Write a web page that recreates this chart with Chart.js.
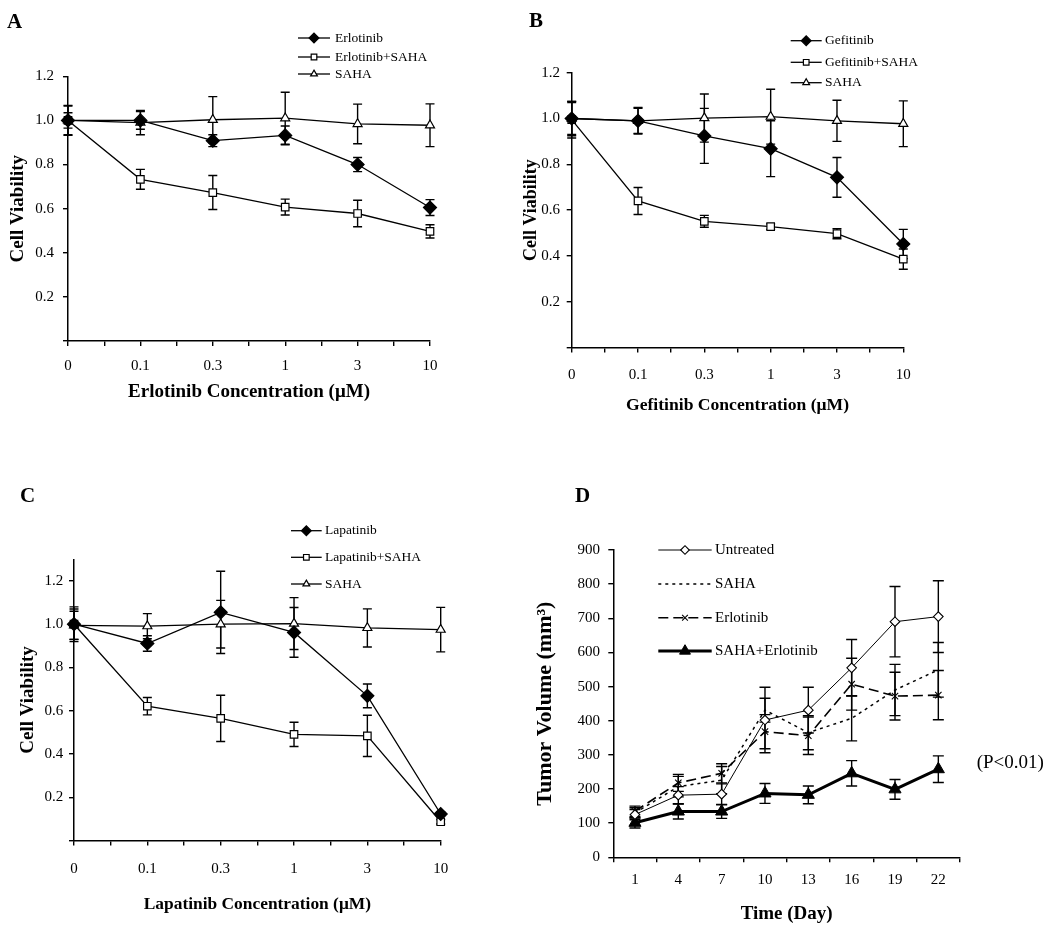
<!DOCTYPE html>
<html><head><meta charset="utf-8">
<script src="https://cdn.jsdelivr.net/npm/chart.js@4/dist/chart.umd.min.js"></script>
<style>
html,body{margin:0;padding:0;background:#fff;}
#wrap{position:relative;width:1050px;height:933px;overflow:hidden;background:#fff;}
canvas{position:absolute;left:0;top:0;}
</style></head><body>
<div id="wrap">
<canvas id="cA" width="1050" height="933"></canvas>
<canvas id="cB" width="1050" height="933"></canvas>
<canvas id="cC" width="1050" height="933"></canvas>
<canvas id="cD" width="1050" height="933"></canvas>
</div>
<script>
// ---------- data ----------
const concentrations = ['0', '0.1', '0.3', '1', '3', '10'];

// Panel A
const erlotinibA      = [1.0, 1.0, 0.908, 0.932, 0.80, 0.605];
const erlotinibAErr   = [0.035, 0.04, 0.027, 0.043, 0.032, 0.036];
const erlotinibSahaA  = [1.0, 0.733, 0.673, 0.607, 0.578, 0.497];
const erlotinibSahaAErr = [0.065, 0.045, 0.077, 0.036, 0.06, 0.03];
const sahaA           = [1.0, 0.99, 1.003, 1.01, 0.984, 0.978];
const sahaAErr        = [0.068, 0.055, 0.105, 0.118, 0.09, 0.097];

// Panel B
const gefitinibB      = [1.0, 0.99, 0.924, 0.868, 0.743, 0.452];
const gefitinibBErr   = [0.07, 0.058, 0.12, 0.122, 0.087, 0.064];
const gefitinibSahaB  = [0.995, 0.64, 0.551, 0.528, 0.497, 0.386];
const gefitinibSahaBErr = [0.08, 0.059, 0.026, 0.012, 0.022, 0.044];
const sahaB           = [1.0, 0.99, 1.002, 1.008, 0.99, 0.977];
const sahaBErr        = [0.075, 0.055, 0.105, 0.12, 0.09, 0.1];

// Panel C
const lapatinibC      = [1.0, 0.911, 1.055, 0.962, 0.669, 0.123];
const lapatinibCErr   = [0.07, 0.036, 0.19, 0.115, 0.055, 0.01];
const lapatinibSahaC  = [1.0, 0.621, 0.565, 0.491, 0.484, 0.087];
const lapatinibSahaCErr = [0.08, 0.04, 0.107, 0.056, 0.095, 0.01];
const sahaC           = [0.995, 0.991, 1.0, 1.003, 0.983, 0.975];
const sahaCErr        = [0.065, 0.058, 0.11, 0.12, 0.088, 0.103];

// Panel D
const days            = ['1', '4', '7', '10', '13', '16', '19', '22'];
const untreatedD      = [125, 182, 185, 402, 431, 555, 690, 705];
const untreatedDErr   = [15, 25, 30, 96, 67, 83, 103, 105];
const sahaD           = [130, 207, 226, 431, 365, 407, 490, 549];
const sahaDErr        = [15, 30, 40, 35, 50, 66, 75, 80];
const erlotinibD      = [135, 218, 246, 368, 356, 507, 472, 475];
const erlotinibDErr   = [15, 25, 28, 50, 55, 76, 70, 72];
const comboD          = [101, 134, 134, 187, 183, 246, 199, 258];
const comboDErr       = [15, 22, 20, 29, 26, 37, 29, 39];

// ---------- helpers ----------
const FONT = '"Liberation Serif", "Times New Roman", serif';
Chart.defaults.font.family = FONT;
Chart.defaults.color = '#000';

const errorBars = {
  id: 'errorBars',
  beforeDatasetsDraw(chart) {
    const ctx = chart.ctx, ys = chart.scales.y;
    chart.data.datasets.forEach((ds, di) => {
      if (!ds.errors) return;
      const meta = chart.getDatasetMeta(di);
      const cap = ds.capHalf || 4.5;
      ctx.save();
      ctx.strokeStyle = '#000'; ctx.lineWidth = 1.4; ctx.setLineDash([]);
      meta.data.forEach((pt, i) => {
        const raw = ds.data[i];
        const v = (raw && typeof raw === 'object') ? raw.y : raw;
        const e = ds.errors[i];
        const top = ys.getPixelForValue(v + e), bot = ys.getPixelForValue(v - e);
        ctx.beginPath();
        ctx.moveTo(pt.x, top); ctx.lineTo(pt.x, bot);
        ctx.moveTo(pt.x - cap, top); ctx.lineTo(pt.x + cap, top);
        ctx.moveTo(pt.x - cap, bot); ctx.lineTo(pt.x + cap, bot);
        ctx.stroke();
      });
      ctx.restore();
    });
  }
};

function makeOverlay(p) {
  return {
    id: 'overlay',
    afterDraw(chart) {
      const ctx = chart.ctx;
      ctx.save();
      const L = p.legend;
      chart.data.datasets.forEach((ds, i) => {
        const y = L.rows[i];
        ctx.strokeStyle = '#000';
        ctx.lineWidth = ds.borderWidth;
        ctx.setLineDash(ds.borderDash || []);
        ctx.beginPath(); ctx.moveTo(L.x1, y); ctx.lineTo(L.x2, y); ctx.stroke();
        ctx.setLineDash([]);
        if (ds.pointRadius > 0) {
          ctx.fillStyle = ds.pointBackgroundColor;
          ctx.strokeStyle = '#000';
          ctx.lineWidth = ds.pointBorderWidth;
          Chart.helpers.drawPoint(ctx, {
            pointStyle: ds.pointStyle, radius: ds.pointRadius * L.markScale,
            rotation: 0, borderWidth: ds.pointBorderWidth
          }, (L.x1 + L.x2) / 2, y);
        }
        ctx.fillStyle = '#000';
        ctx.font = L.size + 'px ' + FONT;
        ctx.textBaseline = 'middle'; ctx.textAlign = 'left';
        ctx.fillText(ds.label, L.tx, y);
      });
      p.texts.forEach(t => {
        ctx.fillStyle = '#000';
        ctx.font = (t.bold ? 'bold ' : '') + t.size + 'px ' + FONT;
        ctx.textBaseline = t.baseline || 'alphabetic';
        ctx.textAlign = 'left';
        ctx.fillText(t.text, t.x, t.y);
      });
      ctx.restore();
    }
  };
}

function makeChart(id, p) {
  const W = 1050, H = 933;
  const a = p.area;
  const gridOpts = { drawOnChartArea: false, drawTicks: true, tickLength: 5, color: '#000', lineWidth: 1.4 };
  const borderOpts = { color: '#000', width: 1.5 };
  const xTitle = { display: true, text: p.xTitle, font: { size: p.xTitleSize, weight: 'bold' }, color: '#000', padding: 0 };
  const yTitle = { display: true, text: p.yTitle, font: { size: p.yTitleSize, weight: 'bold' }, color: '#000', padding: 0 };
  let xScale;
  if (p.catX) {
    xScale = {
      type: 'category', offset: true,
      grid: Object.assign({ offset: true }, gridOpts), border: borderOpts,
      ticks: { padding: p.xPad, font: { size: 15 }, color: '#000', autoSkip: false, maxRotation: 0 },
      title: xTitle,
      afterFit: s => { s.height = p.xH; }
    };
  } else {
    xScale = {
      type: 'linear', min: 0, max: p.labels.length - 1,
      grid: gridOpts, border: borderOpts,
      ticks: {
        stepSize: 0.5, autoSkip: false, padding: p.xPad, font: { size: 15 }, color: '#000', maxRotation: 0,
        callback: v => (Math.abs(v - Math.round(v)) < 1e-6) ? p.labels[Math.round(v)] : ''
      },
      title: xTitle,
      afterFit: s => { s.height = p.xH; }
    };
  }
  const yScale = {
    type: 'linear', min: 0, max: p.yMax,
    grid: gridOpts, border: borderOpts,
    ticks: {
      stepSize: p.yStep, includeBounds: false, padding: p.yPad, font: { size: 15 }, color: '#000',
      callback: p.yFmt
    },
    title: yTitle,
    afterFit: s => { s.width = p.yW; }
  };
  return new Chart(document.getElementById(id), {
    type: 'line',
    data: { labels: p.catX ? p.labels : undefined, datasets: p.datasets },
    options: {
      responsive: false, animation: false, devicePixelRatio: 1,
      layout: { padding: { left: a.l - p.yW, right: W - a.r, top: a.t, bottom: H - a.b - p.xH } },
      plugins: { legend: { display: false }, tooltip: { enabled: false } },
      scales: { x: xScale, y: yScale },
      elements: { line: { tension: 0 } }
    },
    plugins: [errorBars, makeOverlay(p)]
  });
}

function xy(vals) { return vals.map((v, i) => ({ x: i, y: v })); }

function viabilitySet(label, vals, errs, style) {
  const base = {
    label, data: xy(vals), errors: errs,
    borderColor: '#000', borderWidth: 1.3, clip: false,
    pointBorderColor: '#000', pointBorderWidth: 1.2, capHalf: 4.5
  };
  if (style === 'diamond') Object.assign(base, { pointStyle: 'rectRot', pointRadius: 6.5, pointBackgroundColor: '#000' });
  if (style === 'square') Object.assign(base, { pointStyle: 'rect', pointRadius: 5.3, pointBackgroundColor: '#fff' });
  if (style === 'triangle') Object.assign(base, { pointStyle: 'triangle', pointRadius: 5.2, pointBackgroundColor: '#fff' });
  return base;
}

const vFmt = v => (Math.abs(v) < 1e-9 ? '' : v.toFixed(1));

// ---------- Panel A ----------
makeChart('cA', {
  labels: concentrations, yMax: 1.2, yStep: 0.2, yFmt: vFmt,
  area: { l: 68, r: 430, t: 76.3, b: 341 }, yW: 61, xH: 62.8, xPad: 11, yPad: 9,
  xTitleSize: 19, yTitleSize: 19, xTitle: 'Erlotinib Concentration (\u03BCM)', yTitle: 'Cell Viability',
  datasets: [
    viabilitySet('Erlotinib', erlotinibA, erlotinibAErr, 'diamond'),
    viabilitySet('Erlotinib+SAHA', erlotinibSahaA, erlotinibSahaAErr, 'square'),
    viabilitySet('SAHA', sahaA, sahaAErr, 'triangle')
  ],
  legend: { x1: 298, x2: 330, tx: 335, rows: [38, 57, 74], size: 13.5, markScale: 0.75 },
  texts: [{ text: 'A', x: 7, y: 28, size: 21, bold: true }]
});

// ---------- Panel B ----------
makeChart('cB', {
  labels: concentrations, yMax: 1.2, yStep: 0.2, yFmt: vFmt,
  area: { l: 571.7, r: 903.3, t: 72.7, b: 347.5 }, yW: 51.5, xH: 69, xPad: 13.5, yPad: 6.7,
  xTitleSize: 17.6, yTitleSize: 18, xTitle: 'Gefitinib Concentration (\u03BCM)', yTitle: 'Cell Viability',
  datasets: [
    viabilitySet('Gefitinib', gefitinibB, gefitinibBErr, 'diamond'),
    viabilitySet('Gefitinib+SAHA', gefitinibSahaB, gefitinibSahaBErr, 'square'),
    viabilitySet('SAHA', sahaB, sahaBErr, 'triangle')
  ],
  legend: { x1: 790.7, x2: 821.7, tx: 825, rows: [40.7, 62.3, 82.7], size: 13.5, markScale: 0.75 },
  texts: [{ text: 'B', x: 529, y: 27.3, size: 21, bold: true }]
});

// ---------- Panel C ----------
makeChart('cC', {
  labels: concentrations, yMax: 1.3, yStep: 0.2, yFmt: vFmt,
  area: { l: 74, r: 440.7, t: 559.3, b: 840.6 }, yW: 57.3, xH: 74.2, xPad: 14.4, yPad: 5.7,
  xTitleSize: 17.4, yTitleSize: 19, xTitle: 'Lapatinib Concentration (\u03BCM)', yTitle: 'Cell Viability',
  datasets: [
    viabilitySet('Lapatinib', lapatinibC, lapatinibCErr, 'diamond'),
    viabilitySet('Lapatinib+SAHA', lapatinibSahaC, lapatinibSahaCErr, 'square'),
    viabilitySet('SAHA', sahaC, sahaCErr, 'triangle')
  ],
  legend: { x1: 291, x2: 321.7, tx: 325, rows: [530.7, 557.3, 584], size: 13.5, markScale: 0.75 },
  texts: [{ text: 'C', x: 20, y: 502, size: 21, bold: true }]
});

// ---------- Panel D ----------
makeChart('cD', {
  labels: days, catX: true, yMax: 900, yStep: 100, yFmt: v => String(v),
  area: { l: 613.3, r: 960, t: 550, b: 857.3 }, yW: 80.7, xH: 68.1, xPad: 9.2, yPad: 8.3,
  xTitleSize: 19, yTitleSize: 22, xTitle: 'Time (Day)', yTitle: 'Tumor Volume (mm\u00B3)',
  datasets: [
    { label: 'Untreated', data: untreatedD, errors: untreatedDErr, borderColor: '#000', borderWidth: 1, clip: false,
      pointStyle: 'rectRot', pointRadius: 4.8, pointBackgroundColor: '#fff', pointBorderColor: '#000', pointBorderWidth: 1.1, capHalf: 5.5 },
    { label: 'SAHA', data: sahaD, errors: sahaDErr, borderColor: '#000', borderWidth: 1.5, borderDash: [3, 4], clip: false,
      pointRadius: 0, pointBackgroundColor: '#fff', pointBorderColor: '#000', pointBorderWidth: 1, capHalf: 5.5 },
    { label: 'Erlotinib', data: erlotinibD, errors: erlotinibDErr, borderColor: '#000', borderWidth: 1.6, borderDash: [10, 5], clip: false,
      pointStyle: 'crossRot', pointRadius: 4.5, pointBackgroundColor: '#000', pointBorderColor: '#000', pointBorderWidth: 1.1, capHalf: 5.5 },
    { label: 'SAHA+Erlotinib', data: comboD, errors: comboDErr, borderColor: '#000', borderWidth: 3, clip: false,
      pointStyle: 'triangle', pointRadius: 7, pointBackgroundColor: '#000', pointBorderColor: '#000', pointBorderWidth: 1, capHalf: 5.5 }
  ],
  legend: { x1: 658.3, x2: 711.7, tx: 715, rows: [550, 584, 617.7, 651], size: 15, markScale: 0.9 },
  texts: [
    { text: 'D', x: 575, y: 502, size: 21, bold: true },
    { text: '(P<0.01)', x: 976.7, y: 763, size: 19, bold: false, baseline: 'middle' }
  ]
});
</script>
</body></html>
